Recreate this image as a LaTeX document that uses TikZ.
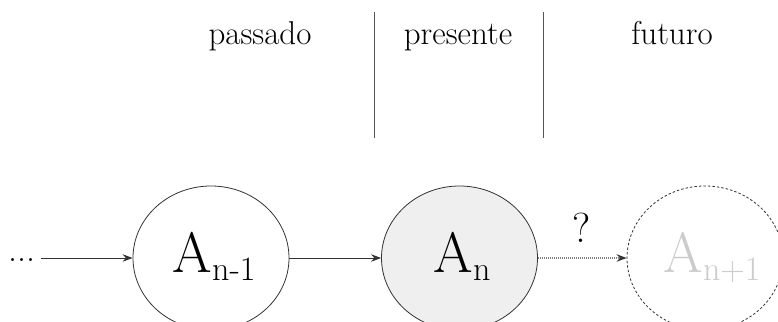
\documentclass[tikz,border=0pt]{standalone}
\usetikzlibrary{shapes.geometric,arrows.meta}
\definecolor{linegray}{HTML}{333333}
\definecolor{fillgray}{HTML}{EFEFEF}
\definecolor{ghost}{HTML}{CCCCCC}
\definecolor{divgray}{HTML}{555555}
\tikzset{
  state/.style={ellipse, draw=linegray, line width=0.8pt, minimum width=156pt, minimum height=144pt, inner sep=0pt},
  ghoststate/.style={state, dashed, dash pattern=on 2.5pt off 2pt},
  lbl/.style={inner sep=0pt, anchor=base, font=\fontsize{57}{57}\selectfont},
  head/.style={inner sep=0pt, anchor=base, font=\fontsize{33}{33}\selectfont},
  arr/.style={draw=linegray, line width=1pt, -{Stealth[length=10pt,width=7.5pt]}},
  dotarr/.style={draw=gray, line width=1.3pt, dash pattern=on 1pt off 1pt, -{Stealth[length=10pt,width=7.5pt,color=linegray]}},
  divider/.style={draw=divgray, line width=1pt}
}
\newcommand{\subtxt}[1]{\raisebox{-8pt}{\fontsize{34}{34}\selectfont #1}}
\begin{document}
\begin{tikzpicture}[x=1pt,y=-1pt]
\useasboundingbox (0,0) rectangle (778,321);
% headings
\node[head] (past) at (260,45) {passado};
\node[head] (pres) at (458,45) {presente};
\node[head] (fut) at (672,45) {futuro};
\coordinate (d1t) at (374,12); \coordinate (d1b) at (374,138);
\coordinate (d2t) at (543,12); \coordinate (d2b) at (543,138);
\draw[divider] (d1t) -- (d1b);
\draw[divider] (d2t) -- (d2b);
% states
\node[state] (a1) at (211,258) {};
\node[state, fill=fillgray] (a2) at (459.5,258) {};
\node[ghoststate] (a3) at (705,258) {};
\node[lbl] (t1) at (214,272) {A\subtxt{n-1}};
\node[lbl] (t2) at (462,272) {A\subtxt{n}};
\node[lbl, text=ghost] (t3) at (712,272) {A\subtxt{n+1}};
% dots
\node[inner sep=0pt, inner xsep=5pt, font=\fontsize{36}{36}\selectfont, anchor=base] (dots) at (22,261) {...};
\draw[arr] (dots.east |- a1.west) -- (a1.west);
\draw[arr] (a1.east) -- (a2.west);
\draw[dotarr] (a2.east) -- (a3.west);
\node[inner sep=0pt, anchor=base, font=\fontsize{42}{42}\selectfont] (q) at (582,242) {?};
\end{tikzpicture}
\end{document}
